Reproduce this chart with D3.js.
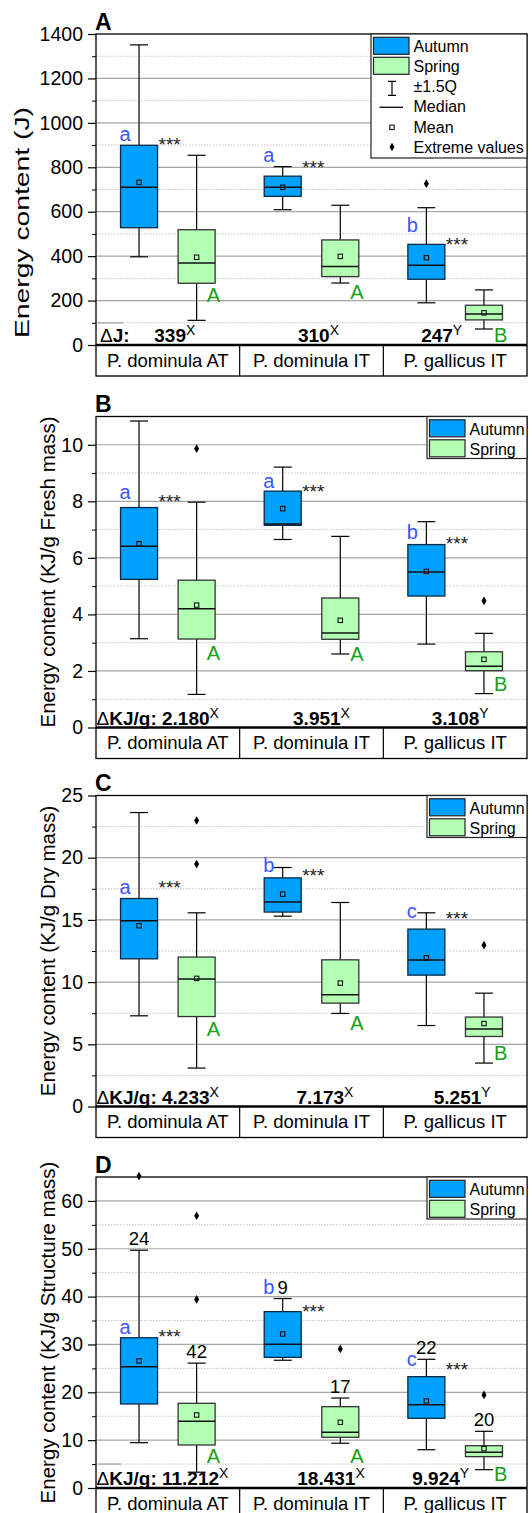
<!DOCTYPE html>
<html>
<head>
<meta charset="utf-8">
<script src="https://cdn.jsdelivr.net/npm/d3@7"></script>
<style>
  body { margin: 0; background: #fff; }
  text { font-family: "Liberation Sans", Arial, sans-serif; }
</style>
</head>
<body>
<div id="chart"></div>
<script>
// ---- data (order of six boxes: AT autumn, AT spring, IT autumn, IT spring, gallicus autumn, gallicus spring)
var groups = ["P. dominula AT", "P. dominula IT", "P. gallicus IT"];
var seasons = ["Autumn", "Spring"];
var deltaGroup = ["X", "X", "Y"];
var springLetters = ["A", "A", "B"];

// A: energy content (J)
var jHigh = [1351, 854, 803, 629, 618, 248];
var jQ3 = [899, 519, 760, 473, 453, 179];
var jMedian = [710, 369, 710, 353, 359, 140];
var jMean = [732, 395, 710, 399, 393, 145];
var jQ1 = [528, 278, 669, 308, 296, 113];
var jLow = [397, 111, 609, 279, 190, 72];
var jExtremes = [[], [], [], [], [726], []];
var jLetters = ["a", "a", "b"];
var jLetterAt = [920, 825, 507];
var jStarsAt = [923, 821, 473];
var jSpringLetterAt = [195, 207, 15];
var jDelta = ["339", "310", "247"];

// B: KJ/g fresh mass
var freshHigh = [10.84, 7.97, 9.21, 6.76, 7.28, 3.33];
var freshQ3 = [7.78, 5.21, 8.36, 4.58, 6.47, 2.68];
var freshMedian = [6.41, 4.20, 7.20, 3.34, 5.50, 2.17];
var freshMean = [6.50, 4.33, 7.74, 3.79, 5.52, 2.41];
var freshQ1 = [5.24, 3.13, 7.15, 3.12, 4.65, 2.01];
var freshLow = [3.14, 1.17, 6.65, 2.60, 2.95, 1.20];
var freshExtremes = [[], [9.86], [], [], [], [4.48]];
var freshLetters = ["a", "a", "b"];
var freshLetterAt = [8.09, 8.48, 6.67];
var freshStarsAt = [8.17, 8.51, 6.66];
var freshSpringLetterAt = [2.39, 2.36, 1.30];
var freshDelta = ["2.180", "3.951", "3.108"];

// C: KJ/g dry mass
var dryHigh = [23.63, 15.57, 19.21, 16.40, 15.57, 9.11];
var dryQ3 = [16.72, 12.01, 18.38, 11.79, 14.26, 7.19];
var dryMedian = [14.93, 10.24, 16.43, 8.98, 11.77, 6.22];
var dryMean = [14.53, 10.30, 17.07, 9.92, 11.95, 6.67];
var dryQ1 = [11.87, 7.23, 15.63, 8.31, 10.56, 5.63];
var dryLow = [7.29, 3.09, 15.30, 7.48, 6.51, 3.49];
var dryExtremes = [[], [22.99, 19.49], [], [], [], [12.97]];
var dryLetters = ["a", "b", "c"];
var dryLetterAt = [17.1, 18.83, 15.19];
var dryStarsAt = [17.98, 18.97, 15.51];
var drySpringLetterAt = [5.63, 6.11, 3.75];
var dryDelta = ["4.233", "7.173", "5.251"];

// D: KJ/g structure mass
var structHigh = [49.7, 26.1, 39.6, 18.8, 26.9, 11.85];
var structQ3 = [31.4, 17.7, 36.86, 17.0, 23.27, 8.84];
var structMedian = [25.36, 13.94, 30.04, 11.64, 17.42, 7.46];
var structMean = [26.55, 15.26, 32.2, 13.73, 18.19, 8.22];
var structQ1 = [17.56, 8.99, 27.3, 10.6, 14.57, 6.55];
var structLow = [9.47, 3.3, 26.7, 9.35, 8.0, 3.83];
var structExtremes = [[65.2], [56.9, 39.4], [], [29.06], [], [19.44]];
var structN = [24, 42, 9, 17, 22, 20];
var structLetters = ["a", "b", "c"];
var structLetterAt = [32.2, 40.5, 25.4];
var structStarsAt = [32.6, 37.8, 25.8];
var structSpringLetterAt = [5.16, 5.29, 1.53];
var structDelta = ["11.212", "18.431", "9.924"];

// ---- layout
var svgWidth = 532, svgHeight = 1513;
var plotLeft = 96, plotRight = 527, plotH = 311, rowH = 31;
var boxW = 37, capW = 18;
var autumnColor = "#00a0ff", springColor = "#b3ffb3";
var blueText = "#3a56ff", greenText = "#16a016";

var svg = d3.select("#chart").append("svg")
    .attr("width", svgWidth)
    .attr("height", svgHeight);

var xGroup = d3.scaleBand().domain(groups).range([plotLeft, plotRight]);
var xSeason = d3.scalePoint().domain(seasons).range([-28.8, 28.8]);

var panels = [
  { tag: "A", top: 34, max: 1400, major: 200, minor: 100, fmt: d3.format("d"),
    ylabel: "Energy content (J)", ylabelY: 222.5, ylabelX: 29, ylabelLen: 231,
    high: jHigh, q3: jQ3, median: jMedian, mean: jMean, q1: jQ1, low: jLow, extremes: jExtremes,
    letters: jLetters, letterAt: jLetterAt, starsAt: jStarsAt, springAt: jSpringLetterAt,
    deltaUnit: "J:", delta: jDelta, noteShift: [7, 7, -13.5], fullLegend: true, stub: 27 },
  { tag: "B", top: 416.5, max: 11, major: 2, minor: 1, fmt: d3.format("d"),
    ylabel: "Energy content (KJ/g Fresh mass)", ylabelX: 54.5,
    high: freshHigh, q3: freshQ3, median: freshMedian, mean: freshMean, q1: freshQ1, low: freshLow, extremes: freshExtremes,
    letters: freshLetters, letterAt: freshLetterAt, starsAt: freshStarsAt, springAt: freshSpringLetterAt,
    deltaUnit: "KJ/g:", delta: freshDelta, noteShift: [0, 10, 5] },
  { tag: "C", top: 795.5, max: 25, major: 5, minor: 2.5, fmt: d3.format("d"),
    ylabel: "Energy content (KJ/g Dry mass)", ylabelX: 54.5,
    high: dryHigh, q3: dryQ3, median: dryMedian, mean: dryMean, q1: dryQ1, low: dryLow, extremes: dryExtremes,
    letters: dryLetters, letterAt: dryLetterAt, starsAt: dryStarsAt, springAt: drySpringLetterAt,
    deltaUnit: "KJ/g:", delta: dryDelta, noteShift: [0, 13.5, 7] },
  { tag: "D", top: 1177, max: 65, major: 10, minor: 5, fmt: d3.format("d"),
    ylabel: "Energy content (KJ/g Structure mass)", ylabelX: 54.5,
    high: structHigh, q3: structQ3, median: structMedian, mean: structMean, q1: structQ1, low: structLow, extremes: structExtremes,
    counts: structN,
    letters: structLetters, letterAt: structLetterAt, starsAt: structStarsAt, springAt: structSpringLetterAt,
    deltaUnit: "KJ/g:", delta: structDelta, noteShift: [0, 19.5, -14.5], stub: 25 }
];

panels.forEach(drawPanel);

function drawPanel(p) {
  var zero = p.top + plotH;
  var y = d3.scaleLinear().domain([0, p.max]).range([zero, p.top]);
  var g = svg.append("g");

  var majors = d3.range(0, p.max + 1e-9, p.major);
  var minors = d3.range(p.minor, p.max - 1e-9, p.major);

  // grid
  g.selectAll(".minor").data(minors).enter().append("line")
      .attr("x1", plotLeft).attr("x2", plotRight)
      .attr("y1", d => y(d)).attr("y2", d => y(d))
      .attr("stroke", "#c4c4c4").attr("stroke-width", 1)
      .attr("stroke-dasharray", "1.5,1.5");
  g.selectAll(".major").data(majors.filter(d => d > 0 && d < p.max)).enter().append("line")
      .attr("x1", plotLeft).attr("x2", plotRight)
      .attr("y1", d => y(d)).attr("y2", d => y(d))
      .attr("stroke", "#a6a6a6").attr("stroke-width", 1.2);
  if (p.stub) {
    g.append("line")
        .attr("x1", plotLeft + 2).attr("x2", plotLeft + p.stub)
        .attr("y1", y(p.minor)).attr("y2", y(p.minor))
        .attr("stroke", "#b0b0b0").attr("stroke-width", 1.6);
  }

  // y axis (major + minor ticks)
  var yAxis = g.append("g")
      .attr("transform", `translate(${plotLeft},0)`)
      .call(d3.axisLeft(y).tickValues(majors).tickSize(8).tickPadding(5).tickFormat(p.fmt));
  yAxis.select(".domain").remove();
  yAxis.attr("font-size", 19.5).attr("font-family", "'Liberation Sans', Arial, sans-serif");
  yAxis.selectAll("line").attr("stroke-width", 1.2);
  var yMinor = g.append("g")
      .attr("transform", `translate(${plotLeft},0)`)
      .call(d3.axisLeft(y).tickValues(minors).tickSize(4).tickFormat(""));
  yMinor.select(".domain").remove();

  // axis title
  var lab = g.append("text")
      .attr("transform", `translate(${p.ylabelX},${p.ylabelY || (p.top + zero) / 2}) rotate(-90)`)
      .attr("text-anchor", "middle")
      .attr("font-size", 20.5)
      .text(p.ylabel);
  if (p.ylabelLen) lab.attr("textLength", p.ylabelLen).attr("lengthAdjust", "spacingAndGlyphs");

  // panel letter
  g.append("text")
      .attr("x", plotLeft - 1).attr("y", p.top - 4.5)
      .attr("font-size", 23).attr("font-weight", "bold")
      .text(p.tag);

  // boxes
  var rows = d3.range(6).map(i => ({
    group: groups[Math.floor(i / 2)], season: seasons[i % 2],
    high: p.high[i], q3: p.q3[i], median: p.median[i], mean: p.mean[i],
    q1: p.q1[i], low: p.low[i], extremes: p.extremes[i],
    n: p.counts ? p.counts[i] : null
  }));
  rows.forEach(r => { r.cx = xGroup(r.group) + xGroup.bandwidth() / 2 + xSeason(r.season); });

  var boxes = g.selectAll(".box").data(rows).enter().append("g");
  boxes.append("line")
      .attr("x1", d => d.cx).attr("x2", d => d.cx)
      .attr("y1", d => y(d.high)).attr("y2", d => y(d.low))
      .attr("stroke", "#000").attr("stroke-width", 1.2);
  boxes.selectAll(".cap").data(d => [d.high, d.low].map(v => ({ cx: d.cx, v: v }))).enter().append("line")
      .attr("x1", d => d.cx - capW / 2).attr("x2", d => d.cx + capW / 2)
      .attr("y1", d => y(d.v)).attr("y2", d => y(d.v))
      .attr("stroke", "#000").attr("stroke-width", 1.2);
  boxes.append("rect")
      .attr("x", d => d.cx - boxW / 2).attr("width", boxW)
      .attr("y", d => y(d.q3)).attr("height", d => y(d.q1) - y(d.q3))
      .attr("fill", d => d.season === "Autumn" ? autumnColor : springColor)
      .attr("stroke", d => d.season === "Autumn" ? "#0a2a44" : "#333")
      .attr("stroke-width", 1.3);
  boxes.append("line")
      .attr("x1", d => d.cx - boxW / 2).attr("x2", d => d.cx + boxW / 2)
      .attr("y1", d => y(d.median)).attr("y2", d => y(d.median))
      .attr("stroke", "#111").attr("stroke-width", 1.5);
  boxes.append("rect")
      .attr("x", d => d.cx - 2.2).attr("y", d => y(d.mean) - 2.2)
      .attr("width", 4.4).attr("height", 4.4)
      .attr("fill", "none").attr("stroke", "#111").attr("stroke-width", 1.1);
  boxes.selectAll(".ext").data(d => d.extremes.map(v => ({ cx: d.cx, v: v }))).enter().append("path")
      .attr("d", d3.symbol(d3.symbolDiamond, 22))
      .attr("transform", d => `translate(${d.cx},${y(d.v)})`)
      .attr("fill", "#000");
  if (p.counts) {
    boxes.append("text")
        .attr("x", d => d.cx).attr("y", d => y(d.high) - 5)
        .attr("text-anchor", "middle").attr("font-size", 18.5)
        .text(d => d.n);
  }

  // significance letters and stars
  var autumnRows = rows.filter(r => r.season === "Autumn");
  var springRows = rows.filter(r => r.season === "Spring");
  g.selectAll(".let").data(autumnRows).enter().append("text")
      .attr("x", d => d.cx - boxW / 2 - 1)
      .attr("y", (d, i) => y(p.letterAt[i]))
      .attr("font-size", 20).attr("fill", blueText)
      .text((d, i) => p.letters[i]);
  g.selectAll(".star").data(autumnRows).enter().append("text")
      .attr("x", d => d.cx + boxW / 2 + 1)
      .attr("y", (d, i) => y(p.starsAt[i]) + 11)
      .attr("font-size", 19).attr("fill", "#222")
      .text("***");
  g.selectAll(".slet").data(springRows).enter().append("text")
      .attr("x", d => d.cx + 10)
      .attr("y", (d, i) => y(p.springAt[i]))
      .attr("font-size", 20).attr("fill", greenText)
      .text((d, i) => springLetters[i]);

  // delta notes
  var noteY = zero - 3;
  groups.forEach((grp, i) => {
    var t = g.append("text").attr("y", noteY).attr("font-size", 19);
    if (i === 0 && p.tag !== "A") {
      t.attr("x", plotLeft + 0.5);
      t.append("tspan").text("\u0394");
      t.append("tspan").attr("font-weight", "bold").text(p.deltaUnit + " " + p.delta[i]);
    } else {
      if (i === 0) {
        g.append("text").attr("x", plotLeft + 4).attr("y", noteY)
            .attr("font-size", 19)
            .call(s => {
              s.append("tspan").text("\u0394");
              s.append("tspan").attr("font-weight", "bold").text(p.deltaUnit);
            });
      }
      t.attr("x", xGroup(grp) + xGroup.bandwidth() / 2 + p.noteShift[i]).attr("text-anchor", "middle");
      t.append("tspan").attr("font-weight", "bold").text(p.delta[i]);
    }
    t.append("tspan").attr("dy", -7).attr("font-size", 14).text(deltaGroup[i]);
  });

  // frame and category row
  g.append("rect")
      .attr("x", plotLeft).attr("y", p.top)
      .attr("width", plotRight - plotLeft).attr("height", plotH + rowH)
      .attr("fill", "none").attr("stroke", "#000").attr("stroke-width", 1.3);
  g.append("line")
      .attr("x1", plotLeft).attr("x2", plotRight)
      .attr("y1", zero).attr("y2", zero)
      .attr("stroke", "#000").attr("stroke-width", 2.6);
  g.selectAll(".div").data(groups.slice(1)).enter().append("line")
      .attr("x1", d => xGroup(d)).attr("x2", d => xGroup(d))
      .attr("y1", zero).attr("y2", zero + rowH)
      .attr("stroke", "#000").attr("stroke-width", 1.2);
  g.selectAll(".cat").data(groups).enter().append("text")
      .attr("x", d => xGroup(d) + xGroup.bandwidth() / 2)
      .attr("y", zero + 21.7)
      .attr("text-anchor", "middle").attr("font-size", 18.5)
      .text(d => d);

  drawLegend(g, p);
}

function drawLegend(g, p) {
  var lx = p.fullLegend ? 371 : 427;
  var lw = plotRight - lx;
  var lh = p.fullLegend ? 124 : 42;
  var top = p.top;
  g.append("rect")
      .attr("x", lx).attr("y", top).attr("width", lw).attr("height", lh)
      .attr("fill", "#fff").attr("stroke", "#222").attr("stroke-width", 1.2);
  seasons.forEach((s, i) => {
    g.append("rect")
        .attr("x", lx + 2.5).attr("y", top + 3.3 + i * 20)
        .attr("width", 35.5).attr("height", 17)
        .attr("fill", i === 0 ? autumnColor : springColor)
        .attr("stroke", "#222").attr("stroke-width", 1.2);
    g.append("text")
        .attr("x", lx + 42.5).attr("y", top + 18 + i * 20)
        .attr("font-size", 16).text(s);
  });
  if (!p.fullLegend) return;
  var sx = lx + 21;
  var extra = ["\u00b11.5Q", "Median", "Mean", "Extreme values"];
  extra.forEach((s, i) => {
    g.append("text")
        .attr("x", lx + 42.5).attr("y", top + 58.3 + i * 20.1)
        .attr("font-size", 16).text(s);
  });
  var iy = top + 54.3;
  g.append("path")
      .attr("d", `M${sx - 4},${iy - 7}H${sx + 4}M${sx},${iy - 7}V${iy + 7}M${sx - 4},${iy + 7}H${sx + 4}`)
      .attr("stroke", "#000").attr("stroke-width", 1.2).attr("fill", "none");
  g.append("line")
      .attr("x1", sx - 12.5).attr("x2", sx + 11)
      .attr("y1", top + 73.3).attr("y2", top + 73.3)
      .attr("stroke", "#000").attr("stroke-width", 1.3);
  g.append("rect")
      .attr("x", sx - 2.2).attr("y", top + 93.3 - 2.2).attr("width", 4.4).attr("height", 4.4)
      .attr("fill", "none").attr("stroke", "#111").attr("stroke-width", 1.1);
  g.append("path")
      .attr("d", d3.symbol(d3.symbolDiamond, 22))
      .attr("transform", `translate(${sx},${top + 113})`)
      .attr("fill", "#000");
}
</script>
</body>
</html>
